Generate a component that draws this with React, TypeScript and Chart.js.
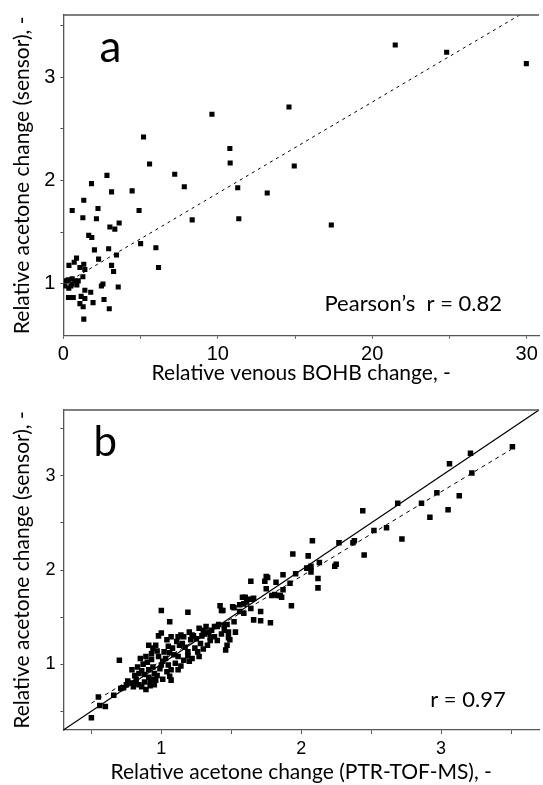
import React, { useEffect, useRef } from 'react';
import { Chart, registerables } from 'chart.js';

Chart.register(...registerables);

// ---------------- Panel a: sensor vs venous BOHB ----------------
const bohbChange = [
  2.82, 1.82, 3.12, 4.45, 1.32, 0.57, 2.24, 4.90, 1.26, 2.14,
  3.01, 3.33, 3.61, 1.64, 1.84, 5.00, 2.01, 2.93, 3.44, 2.28,
  0.85, 0.70, 0.36, 1.32, 1.07, 1.39, 3.12, 3.25, 1.26, 0.31,
  0.57, 0.74, 0.96, 0.49, 0.87, 0.10, 2.56, 2.46, 3.55, 1.39,
  1.77, 0.47, 0.64, 1.15, 1.39, 2.63, 1.07, 1.92, 1.28, 2.97,
  1.32, 0.20, 0.35, 0.55, 0.33,
  9.62, 14.61, 5.19, 10.78, 10.80, 5.58, 14.95, 7.21, 7.83, 11.29,
  13.20, 8.34, 11.36, 17.35, 5.99, 6.16, 21.49, 24.82, 29.98,
];
const sensorChangeA = [
  2.05, 1.97, 1.89, 1.90, 1.81, 1.71, 1.73, 1.71, 1.64, 1.63,
  1.55, 1.53, 1.59, 1.47, 1.45, 1.39, 1.33, 1.34, 1.28, 1.24,
  1.25, 1.21, 1.18, 1.19, 1.16, 1.14, 1.18, 1.12, 1.07, 1.04,
  1.05, 1.03, 1.03, 0.98, 0.99, 0.98, 1.00, 0.98, 0.97, 0.94,
  0.92, 0.87, 0.87, 0.88, 0.86, 0.85, 0.81, 0.82, 0.78, 0.76,
  0.66, 1.03, 0.96, 1.00, 0.87,
  2.64, 2.71, 2.42, 2.31, 2.17, 2.16, 2.14, 2.06, 1.94, 1.93,
  1.88, 1.62, 1.63, 1.57, 1.35, 1.16, 3.31, 3.24, 3.13,
];
const fitLineAx = [0.5, 30];
const fitLineAy = [1.04, 3.64];
const xTicksA = [0, 5, 10, 15, 20, 25, 30];
const xLabelsA = [0, 10, 20, 30];
const yTicksA = [1, 1.5, 2, 2.5, 3, 3.5];
const yLabelsA = [1, 2, 3];

// ---------------- Panel b: sensor vs PTR-TOF-MS ----------------
const ptrUpper = [3.51, 3.21, 3.06, 3.22, 2.97, 3.13, 2.86, 2.69, 3.05, 2.44, 2.92, 2.61, 2.52, 2.72, 2.08, 2.27, 2.37, 2.38, 1.94, 2.05, 2.45, 2.13, 2.07, 2.04, 2.24, 2.25, 2.07, 2.12, 2.12];
const sensorUpper = [3.31, 3.24, 3.13, 3.03, 2.82, 2.79, 2.71, 2.71, 2.64, 2.63, 2.56, 2.45, 2.42, 2.33, 2.31, 2.29, 2.29, 2.31, 2.17, 2.15, 2.16, 2.08, 2.04, 2.02, 2.04, 2.06, 1.98, 1.91, 1.81];
const ptrMid = [1.96, 1.87, 1.76, 1.74, 1.64, 1.92, 1.75, 1.87, 1.81, 1.83, 1.85, 1.60, 1.62, 1.65, 1.59, 1.56, 1.93, 1.42, 1.00, 1.19, 1.52, 1.64, 1.43, 1.44, 1.59, 1.71, 1.66, 1.78, 1.06, 1.41, 1.47, 1.52, 1.38, 1.40, 1.27, 1.30, 1.48, 1.36, 1.20, 1.22, 1.53, 1.31, 1.00, 0.98, 1.07, 1.14, 1.16, 1.48, 1.35, 1.38, 1.46, 1.49, 1.47, 1.71, 1.75, 1.82, 1.79, 1.86, 1.61, 1.58, 1.56, 1.51, 1.66];
const sensorMid = [1.96, 1.95, 1.92, 1.88, 1.88, 1.86, 1.80, 1.79, 1.74, 1.73, 1.73, 1.71, 1.69, 1.69, 1.64, 1.63, 1.62, 1.62, 1.57, 1.55, 1.60, 1.59, 1.57, 1.57, 1.54, 1.56, 1.47, 1.44, 1.45, 1.42, 1.42, 1.45, 1.40, 1.40, 1.38, 1.36, 1.34, 1.36, 1.34, 1.31, 1.34, 1.32, 1.33, 1.30, 1.29, 1.31, 1.29, 1.28, 1.28, 1.29, 1.15, 1.26, 1.20, 1.46, 1.93, 1.87, 1.73, 1.71, 1.66, 1.71, 1.56, 1.61, 1.70];
const ptrLow = [0.50, 0.56, 0.60, 0.55, 0.66, 0.70, 0.71, 0.73, 0.75, 0.76, 0.79, 0.81, 0.84, 0.86, 0.89, 0.88, 0.79, 0.81, 0.84, 0.83, 0.85, 0.87, 0.91, 0.91, 0.94, 0.96, 1.01, 1.07, 1.04, 1.12, 1.20, 1.04, 0.96, 1.12, 1.15, 1.21, 1.19, 1.12, 1.16, 1.22, 1.07, 1.05, 1.01, 0.98, 0.93, 0.89, 0.94, 0.91, 1.02, 1.08, 1.09, 0.95, 0.99, 1.03, 1.06, 0.90, 0.86, 0.92, 0.97, 1.00, 1.10, 1.13, 1.17, 1.24, 1.28, 1.30, 1.33, 1.26, 1.35, 1.29, 1.23, 1.40, 1.43, 1.45, 1.34, 1.32, 1.45, 1.25, 0.97, 0.93, 1.05, 1.11, 0.88, 0.94, 0.82, 0.80, 0.92, 0.95, 1.06, 1.14, 1.19, 1.27];
const sensorLow = [0.43, 0.56, 0.55, 0.65, 0.67, 1.04, 0.74, 0.75, 0.78, 0.82, 0.80, 0.80, 0.78, 0.76, 0.73, 0.81, 0.94, 0.88, 0.90, 0.97, 1.06, 1.00, 0.86, 0.94, 0.97, 0.83, 0.84, 0.83, 0.92, 0.94, 1.03, 1.26, 1.20, 1.29, 1.22, 1.26, 1.13, 1.08, 1.04, 1.06, 0.94, 0.99, 1.03, 1.08, 1.11, 1.08, 1.17, 1.20, 1.13, 1.17, 1.10, 0.90, 0.95, 1.06, 1.12, 1.02, 0.93, 0.81, 0.88, 0.99, 1.01, 1.20, 1.18, 1.17, 1.22, 1.16, 1.20, 1.13, 1.25, 1.30, 1.30, 1.25, 1.32, 1.36, 1.34, 1.40, 1.41, 1.27, 1.14, 1.05, 1.19, 1.24, 0.89, 0.84, 0.84, 0.76, 0.77, 0.78, 0.87, 0.98, 1.09, 1.08];
const identityLine = [0.3, 3.7];
const fitLineBx = [0.5, 3.5];
const fitLineBy = [0.585, 3.28];
const xTicksB = [0.5, 1, 1.5, 2, 2.5, 3, 3.5];
const xLabelsB = [1, 2, 3];
const yTicksB = [0.5, 1, 1.5, 2, 2.5, 3, 3.5];
const yLabelsB = [1, 2, 3];

const toPts = (xs: number[], ys: number[]) => xs.map((x, i) => ({ x, y: ys[i] }));

const AXIS = '#555';
const TITLE_FONT = 'Lato';
const TICK_FONT = 'Liberation Sans';

type Txt = { text: string; font: string; align: 'left' | 'right'; dx: number; dy: number };

const framePlugin = {
  id: 'frame',
  afterDraw(chart: any, _args: any, opts: any) {
    const { ctx, chartArea } = chart;
    ctx.save();
    ctx.strokeStyle = AXIS;
    ctx.lineWidth = 1.3;
    ctx.beginPath();
    ctx.moveTo(chartArea.left, chartArea.top);
    ctx.lineTo(chartArea.right, chartArea.top);
    ctx.stroke();
    ctx.fillStyle = '#000';
    ctx.textBaseline = 'alphabetic';
    (opts.texts as Txt[]).forEach((t) => {
      ctx.font = t.font;
      ctx.textAlign = t.align;
      const x = t.align === 'left' ? chartArea.left + t.dx : chartArea.right - t.dx;
      ctx.fillText(t.text, x, chartArea.top + t.dy);
    });
    ctx.restore();
  },
};

type Panel = {
  xs: number[]; ys: number[]; pointRadius: number;
  lines: { x: number[]; y: number[]; dash: number[]; width: number }[];
  xMin: number; xMax: number; yMin: number; yMax: number;
  xTicks: number[]; xLabels: number[]; yTicks: number[]; yLabels: number[];
  padTop: number; yAxisW: number; xAxisH: number;
  tickSize: number; xTickPad: number; xTickLen: number;
  xTitle: string; yTitle: string; titleSize: number; xTitlePad: number; yTitlePad: number;
  texts: Txt[];
};

function build(canvas: HTMLCanvasElement, p: Panel) {
  const datasets: any[] = [
    {
      data: toPts(p.xs, p.ys),
      pointStyle: 'rect',
      pointRadius: p.pointRadius,
      backgroundColor: '#000',
      borderWidth: 0,
      showLine: false,
      order: 1,
    },
    ...p.lines.map((l) => ({
      data: toPts(l.x, l.y),
      showLine: true,
      borderColor: '#000',
      borderWidth: l.width,
      borderDash: l.dash,
      pointRadius: 0,
      fill: false,
      order: 0,
    })),
  ];
  return new Chart(canvas, {
    type: 'scatter',
    data: { datasets },
    options: {
      responsive: false,
      animation: false,
      events: [],
      layout: { padding: { top: p.padTop, right: 0, left: 0, bottom: 0 } },
      plugins: {
        legend: { display: false },
        tooltip: { enabled: false },
        // @ts-ignore
        frame: { texts: p.texts },
      },
      scales: {
        x: {
          type: 'linear',
          min: p.xMin,
          max: p.xMax,
          afterBuildTicks: (s: any) => { s.ticks = p.xTicks.map((v) => ({ value: v })); },
          afterFit: (s: any) => { s.height = p.xAxisH; s.paddingLeft = 0; s.paddingRight = 0; },
          grid: { display: true, drawOnChartArea: false, drawTicks: true, tickLength: p.xTickLen, color: AXIS, lineWidth: 1 },
          border: { display: true, color: AXIS, width: 1.3 },
          ticks: {
            padding: p.xTickPad, autoSkip: false, maxRotation: 0, color: '#000',
            font: { family: TICK_FONT, size: p.tickSize },
            callback: (v: any) => (p.xLabels.includes(Number(v)) ? String(v) : ''),
          },
          title: { display: true, text: p.xTitle, color: '#000', font: { family: TITLE_FONT, size: p.titleSize }, padding: { top: 0, bottom: p.xTitlePad } },
        },
        y: {
          type: 'linear',
          min: p.yMin,
          max: p.yMax,
          afterBuildTicks: (s: any) => { s.ticks = p.yTicks.map((v) => ({ value: v })); },
          afterFit: (s: any) => { s.width = p.yAxisW; s.paddingTop = 0; s.paddingBottom = 0; },
          grid: { display: true, drawOnChartArea: false, drawTicks: true, tickLength: 3, color: AXIS, lineWidth: 1 },
          border: { display: true, color: AXIS, width: 1.3 },
          ticks: {
            padding: 5, autoSkip: false, color: '#000',
            font: { family: TICK_FONT, size: p.tickSize },
            callback: (v: any) => (p.yLabels.includes(Number(v)) ? String(v) : ''),
          },
          title: { display: true, text: p.yTitle, color: '#000', font: { family: TITLE_FONT, size: p.titleSize }, padding: { top: p.yTitlePad, bottom: 0 } },
        },
      },
    } as any,
    plugins: [framePlugin as any],
  });
}

const panelA: Panel = {
  xs: bohbChange, ys: sensorChangeA, pointRadius: 3.6,
  lines: [{ x: fitLineAx, y: fitLineAy, dash: [3, 4], width: 1 }],
  xMin: 0, xMax: 30.8, yMin: 0.5, yMax: 3.6,
  xTicks: xTicksA, xLabels: xLabelsA, yTicks: yTicksA, yLabels: yLabelsA,
  padTop: 15, yAxisW: 63.4, xAxisH: 56.3,
  tickSize: 20, xTickPad: 4, xTickLen: 3,
  xTitle: 'Relative venous BOHB change, -', yTitle: 'Relative acetone change (sensor), -',
  titleSize: 21, xTitlePad: 6.5, yTitlePad: 9.4,
  texts: [
    { text: 'a', font: `44px ${TITLE_FONT}`, align: 'left', dx: 36, dy: 47 },
    { text: 'Pearson\u2019s  r = 0.82', font: `22px ${TITLE_FONT}`, align: 'right', dx: 37, dy: 295.7 },
  ],
};

const panelB: Panel = {
  xs: [...ptrUpper, ...ptrMid, ...ptrLow], ys: [...sensorUpper, ...sensorMid, ...sensorLow], pointRadius: 3.9,
  lines: [
    { x: identityLine, y: identityLine, dash: [], width: 1.2 },
    { x: fitLineBx, y: fitLineBy, dash: [4, 4], width: 1 },
  ],
  xMin: 0.3, xMax: 3.7, yMin: 0.3, yMax: 3.7,
  xTicks: xTicksB, xLabels: xLabelsB, yTicks: yTicksB, yLabels: yLabelsB,
  padTop: 18, yAxisW: 63.4, xAxisH: 55,
  tickSize: 18, xTickPad: 4, xTickLen: 4,
  xTitle: 'Relative acetone change (PTR-TOF-MS), -', yTitle: 'Relative acetone change (sensor), -',
  titleSize: 21, xTitlePad: 0.5, yTitlePad: 9.4,
  texts: [
    { text: 'b', font: `42px ${TITLE_FONT}`, align: 'left', dx: 30, dy: 46 },
    { text: 'r = 0.97', font: `22px ${TITLE_FONT}`, align: 'right', dx: 33.3, dy: 296.7 },
  ],
};

export default function App() {
  const refA = useRef<HTMLCanvasElement>(null);
  const refB = useRef<HTMLCanvasElement>(null);
  useEffect(() => {
    const a = build(refA.current!, panelA);
    const b = build(refB.current!, panelB);
    return () => { a.destroy(); b.destroy(); };
  }, []);
  return (
    <div style={{ position: 'absolute', left: 0, top: 0, width: 543, height: 785, background: '#fff' }}>
      <canvas ref={refA} width={543} height={392} style={{ position: 'absolute', left: 0, top: 0, width: 543, height: 392 }} />
      <canvas ref={refB} width={543} height={393} style={{ position: 'absolute', left: 0, top: 392, width: 543, height: 393 }} />
    </div>
  );
}
